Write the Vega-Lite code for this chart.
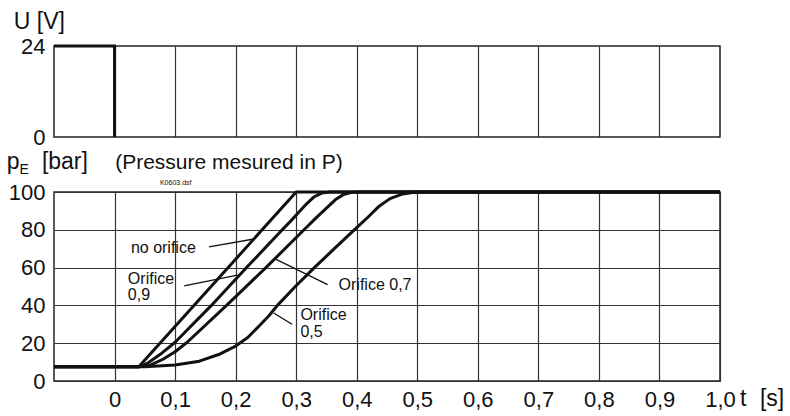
{
  "$schema": "https://vega.github.io/schema/vega-lite/v6.json",
  "padding": {"left": 6, "top": 9, "right": 5, "bottom": 5},
  "background": "white",
  "config": {
    "font": "Liberation Sans",
    "view": {"stroke": "#222", "strokeWidth": 1.5},
    "axis": {"gridColor": "#333", "gridWidth": 1.2, "gridOpacity": 1, "labelColor": "#111", "labelFontSize": 22, "labelFont": "Liberation Sans", "ticks": false, "domain": false, "title": null, "labelOverlap": false, "labelFlush": false}
  },
  "datasets": {
    "uline": [
      {"x": -0.1, "y": 24, "o": 1},
      {"x": 0, "y": 24, "o": 2},
      {"x": 0, "y": 0, "o": 3}
    ],
    "utext": [
      {"x": -0.1665, "y": 28.6, "txt": "U [V]"}
    ],
    "press": [
      {"s": "no orifice", "o": 1, "x": -0.1, "y": 7.5},
      {"s": "no orifice", "o": 2, "x": 0.04, "y": 7.5},
      {"s": "no orifice", "o": 3, "x": 0.3, "y": 100},
      {"s": "no orifice", "o": 4, "x": 1.0, "y": 100},
      {"s": "0,9", "o": 1, "x": -0.1, "y": 7.5},
      {"s": "0,9", "o": 2, "x": 0.04, "y": 7.5},
      {"s": "0,9", "o": 3, "x": 0.055, "y": 9.5},
      {"s": "0,9", "o": 4, "x": 0.075, "y": 14},
      {"s": "0,9", "o": 5, "x": 0.1, "y": 20.5},
      {"s": "0,9", "o": 6, "x": 0.16, "y": 40},
      {"s": "0,9", "o": 7, "x": 0.218, "y": 60},
      {"s": "0,9", "o": 8, "x": 0.277, "y": 80},
      {"s": "0,9", "o": 9, "x": 0.292, "y": 85},
      {"s": "0,9", "o": 10, "x": 0.305, "y": 89.5},
      {"s": "0,9", "o": 11, "x": 0.318, "y": 94},
      {"s": "0,9", "o": 12, "x": 0.33, "y": 97.5},
      {"s": "0,9", "o": 13, "x": 0.342, "y": 99.4},
      {"s": "0,9", "o": 14, "x": 0.355, "y": 100},
      {"s": "0,9", "o": 15, "x": 1.0, "y": 100},
      {"s": "0,7", "o": 1, "x": -0.1, "y": 7.5},
      {"s": "0,7", "o": 2, "x": 0.04, "y": 7.5},
      {"s": "0,7", "o": 3, "x": 0.06, "y": 8.5},
      {"s": "0,7", "o": 4, "x": 0.08, "y": 11.5},
      {"s": "0,7", "o": 5, "x": 0.1, "y": 15.5},
      {"s": "0,7", "o": 6, "x": 0.12, "y": 20.5},
      {"s": "0,7", "o": 7, "x": 0.185, "y": 40},
      {"s": "0,7", "o": 8, "x": 0.25, "y": 60},
      {"s": "0,7", "o": 9, "x": 0.313, "y": 80},
      {"s": "0,7", "o": 10, "x": 0.335, "y": 87},
      {"s": "0,7", "o": 11, "x": 0.35, "y": 91.5},
      {"s": "0,7", "o": 12, "x": 0.365, "y": 96},
      {"s": "0,7", "o": 13, "x": 0.378, "y": 98.6},
      {"s": "0,7", "o": 14, "x": 0.39, "y": 99.7},
      {"s": "0,7", "o": 15, "x": 0.405, "y": 100},
      {"s": "0,7", "o": 16, "x": 1.0, "y": 100},
      {"s": "0,5", "o": 1, "x": -0.1, "y": 7.5},
      {"s": "0,5", "o": 2, "x": 0.05, "y": 7.5},
      {"s": "0,5", "o": 3, "x": 0.1, "y": 8.5},
      {"s": "0,5", "o": 4, "x": 0.14, "y": 10.5},
      {"s": "0,5", "o": 5, "x": 0.172, "y": 14},
      {"s": "0,5", "o": 6, "x": 0.2, "y": 18.5},
      {"s": "0,5", "o": 7, "x": 0.22, "y": 23},
      {"s": "0,5", "o": 8, "x": 0.24, "y": 29.5},
      {"s": "0,5", "o": 9, "x": 0.255, "y": 34.5},
      {"s": "0,5", "o": 10, "x": 0.269, "y": 40},
      {"s": "0,5", "o": 11, "x": 0.297, "y": 49.5},
      {"s": "0,5", "o": 12, "x": 0.33, "y": 60},
      {"s": "0,5", "o": 13, "x": 0.363, "y": 70},
      {"s": "0,5", "o": 14, "x": 0.396, "y": 80},
      {"s": "0,5", "o": 15, "x": 0.418, "y": 86.5},
      {"s": "0,5", "o": 16, "x": 0.437, "y": 92.5},
      {"s": "0,5", "o": 17, "x": 0.455, "y": 96.5},
      {"s": "0,5", "o": 18, "x": 0.476, "y": 99},
      {"s": "0,5", "o": 19, "x": 0.498, "y": 100},
      {"s": "0,5", "o": 20, "x": 1.0, "y": 100}
    ],
    "lead": [
      {"x": 0.156, "y": 71, "x2": 0.228, "y2": 75},
      {"x": 0.115, "y": 50.3, "x2": 0.203, "y2": 56},
      {"x": 0.266, "y": 64.5, "x2": 0.352, "y2": 51},
      {"x": 0.263, "y": 36, "x2": 0.293, "y2": 30}
    ],
    "ptext": [
      {"kind": "big", "x": -0.178, "y": 112.2, "txt": "p"},
      {"kind": "big", "x": -0.12, "y": 112.2, "txt": "[bar]"},
      {"kind": "mid", "x": 0.001, "y": 112.2, "txt": "(Pressure mesured in P)"},
      {"kind": "big", "x": 1.033, "y": -13.2, "txt": "t"},
      {"kind": "big", "x": 1.066, "y": -13.2, "txt": "[s]"},
      {"kind": "sub", "x": -0.157, "y": 109.3, "txt": "E"},
      {"kind": "tiny", "x": 0.075, "y": 104.8, "txt": "K0603.dsf"},
      {"kind": "ann", "x": 0.027, "y": 70.5, "txt": "no orifice"},
      {"kind": "ann", "x": 0.022, "y": 53.8, "txt": "Orifice"},
      {"kind": "ann", "x": 0.022, "y": 45.4, "txt": "0,9"},
      {"kind": "ann", "x": 0.37, "y": 51, "txt": "Orifice 0,7"},
      {"kind": "ann", "x": 0.307, "y": 35.1, "txt": "Orifice"},
      {"kind": "ann", "x": 0.307, "y": 25.7, "txt": "0,5"}
    ]
  },
  "spacing": 55,
  "bounds": "flush",
  "vconcat": [
    {
      "width": 666,
      "height": 91,
      "encoding": {
        "x": {"field": "x", "type": "quantitative", "scale": {"domain": [-0.1, 1.0], "nice": false, "zero": false},
              "axis": {"values": [0, 0.1, 0.2, 0.3, 0.4, 0.5, 0.6, 0.7, 0.8, 0.9], "labels": false, "grid": true}},
        "y": {"field": "y", "type": "quantitative", "scale": {"domain": [0, 24], "nice": false},
              "axis": {"values": [0, 24], "grid": false, "labelPadding": 9, "labelFontSize": 22, "labelOverlap": false}}
      },
      "layer": [
        {
          "data": {"name": "uline"},
          "mark": {"type": "line", "stroke": "#111", "strokeWidth": 3},
          "encoding": {"order": {"field": "o"}}
        },
        {
          "data": {"name": "utext"},
          "mark": {"type": "text", "align": "left", "baseline": "alphabetic", "fontSize": 23, "color": "#111"},
          "encoding": {"text": {"field": "txt"}}
        }
      ]
    },
    {
      "width": 666,
      "height": 189,
      "encoding": {
        "x": {"field": "x", "type": "quantitative", "scale": {"domain": [-0.1, 1.0], "nice": false, "zero": false},
              "axis": {"values": [0, 0.1, 0.2, 0.3, 0.4, 0.5, 0.6, 0.7, 0.8, 0.9, 1.0], "grid": true, "labelPadding": 8,
                       "labelFontSize": 22, "labelOverlap": false, "labelFlush": false,
                       "labelExpr": "datum.value == 0 ? '0' : replace(format(datum.value, '.1f'), '.', ',')"}},
        "y": {"field": "y", "type": "quantitative", "scale": {"domain": [0, 100], "nice": false},
              "axis": {"values": [0, 20, 40, 60, 80, 100], "grid": true, "labelPadding": 9, "labelFontSize": 22, "labelOverlap": false, "labelFlush": false}}
      },
      "layer": [
        {
          "data": {"name": "press"},
          "mark": {"type": "line", "stroke": "#111", "strokeWidth": 3, "strokeJoin": "round"},
          "encoding": {"detail": {"field": "s"}, "order": {"field": "o"}}
        },
        {
          "data": {"name": "lead"},
          "mark": {"type": "rule", "stroke": "#111", "strokeWidth": 1.3},
          "encoding": {"x2": {"field": "x2"}, "y2": {"field": "y2"}}
        },
        {
          "data": {"name": "ptext"},
          "transform": [{"filter": "datum.kind == 'big'"}],
          "mark": {"type": "text", "align": "left", "baseline": "alphabetic", "fontSize": 23, "color": "#111"},
          "encoding": {"text": {"field": "txt"}}
        },
        {
          "data": {"name": "ptext"},
          "transform": [{"filter": "datum.kind == 'mid'"}],
          "mark": {"type": "text", "align": "left", "baseline": "alphabetic", "fontSize": 21, "color": "#111"},
          "encoding": {"text": {"field": "txt"}}
        },
        {
          "data": {"name": "ptext"},
          "transform": [{"filter": "datum.kind == 'sub'"}],
          "mark": {"type": "text", "align": "left", "baseline": "alphabetic", "fontSize": 14, "color": "#111"},
          "encoding": {"text": {"field": "txt"}}
        },
        {
          "data": {"name": "ptext"},
          "transform": [{"filter": "datum.kind == 'tiny'"}],
          "mark": {"type": "text", "align": "left", "baseline": "middle", "fontSize": 7, "color": "#111"},
          "encoding": {"text": {"field": "txt"}}
        },
        {
          "data": {"name": "ptext"},
          "transform": [{"filter": "datum.kind == 'ann'"}],
          "mark": {"type": "text", "align": "left", "baseline": "middle", "fontSize": 16, "color": "#111"},
          "encoding": {"text": {"field": "txt"}}
        }
      ]
    }
  ]
}
